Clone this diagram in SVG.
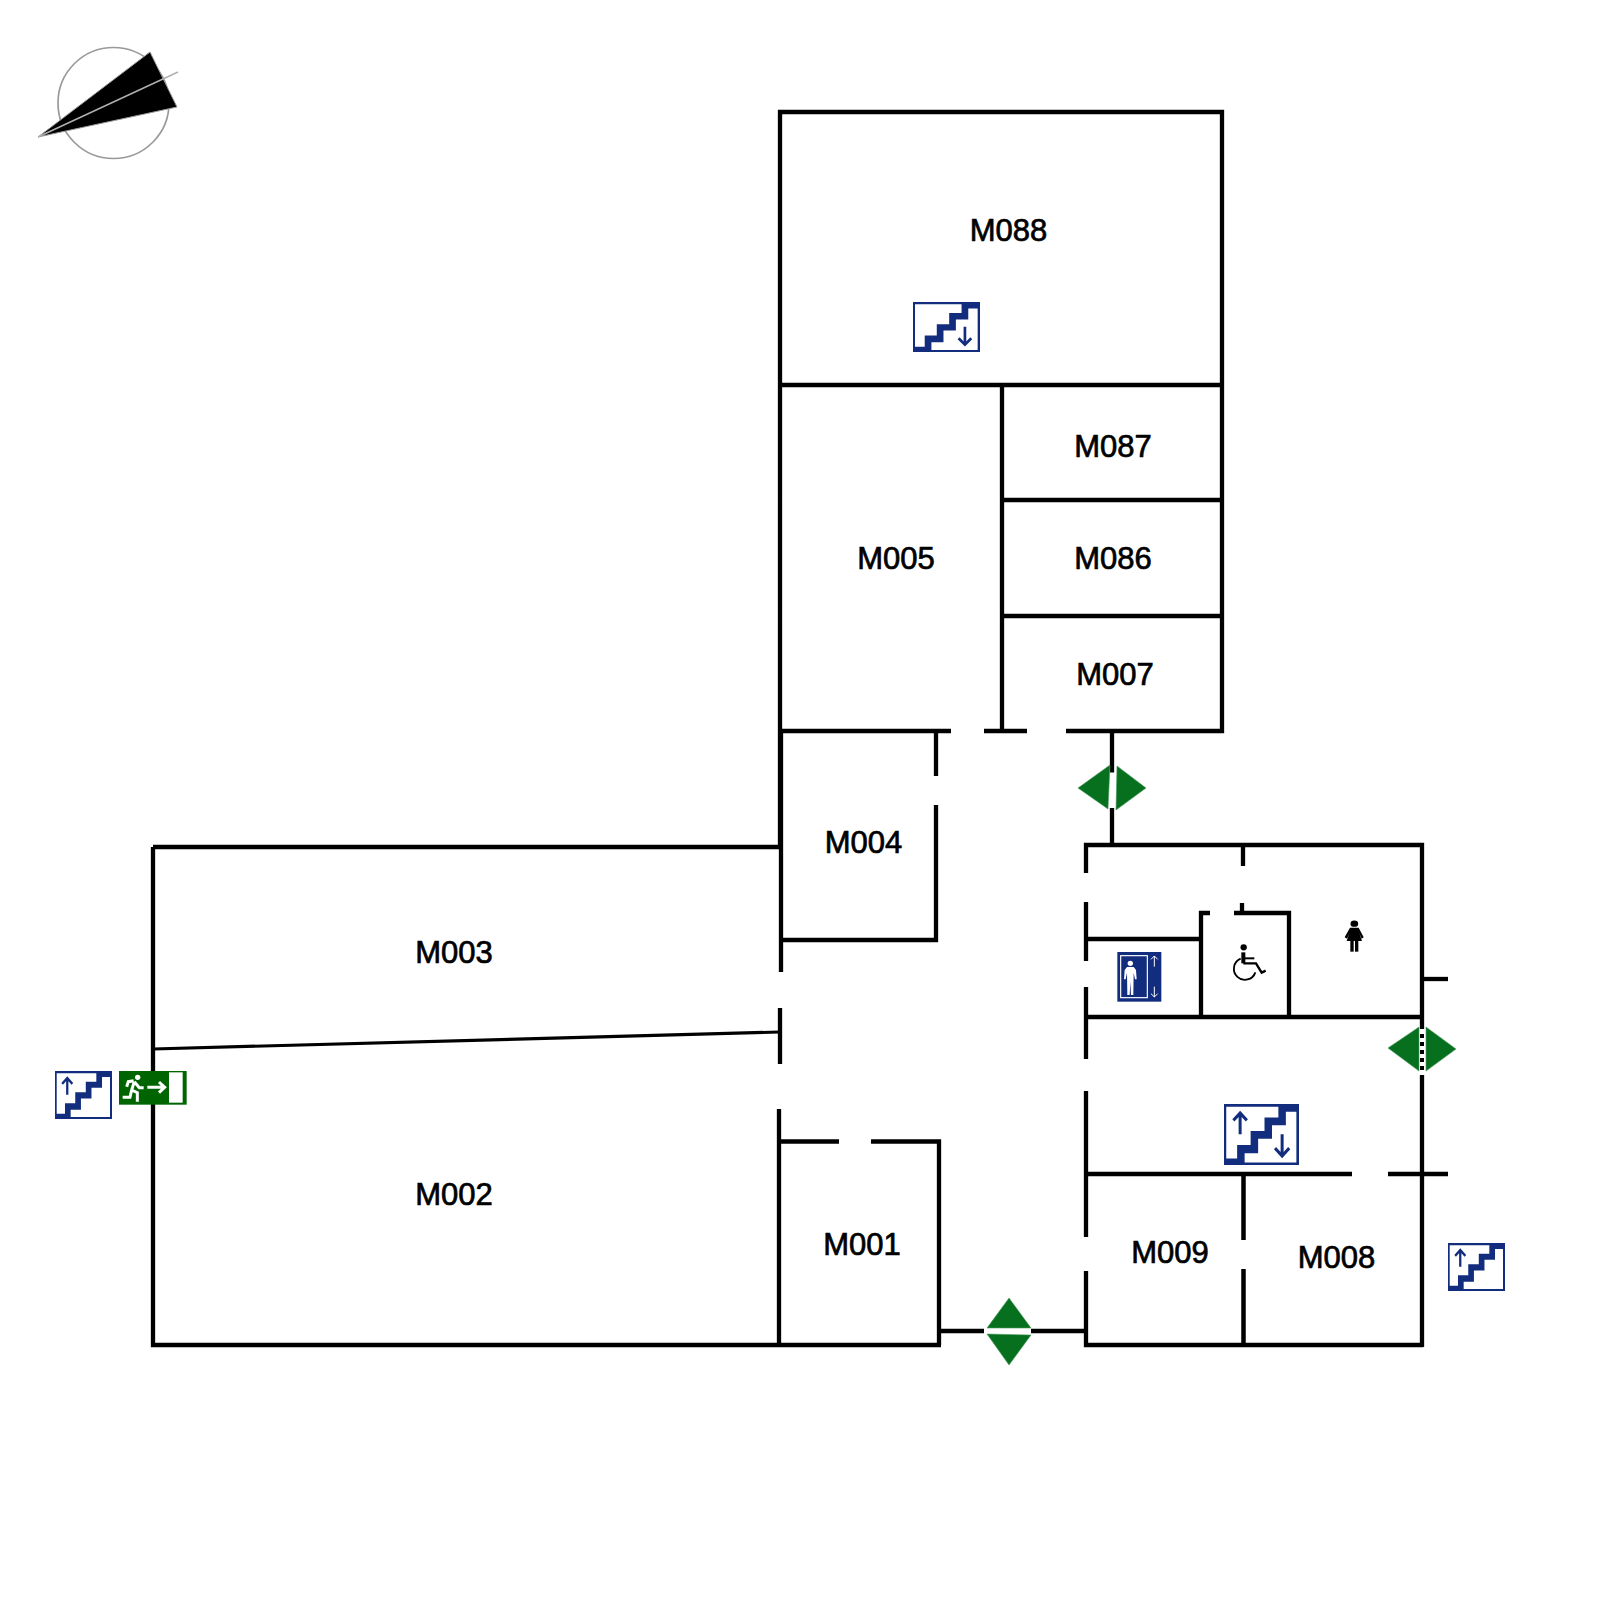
<svg xmlns="http://www.w3.org/2000/svg" width="1600" height="1600" viewBox="0 0 1600 1600">
<style>
.w{fill:none;stroke:#000;stroke-width:4.300;stroke-linecap:butt;stroke-linejoin:miter}
.t{font-family:"Liberation Sans",Arial,sans-serif;font-size:31px;fill:#000;text-anchor:middle;stroke:#000;stroke-width:.7}
.g{fill:#06701f;stroke:#4f9a62;stroke-width:.6}
.a{fill:none;stroke:#122d7d;stroke-width:8}
.p{fill:#fff}
</style>
<defs>
<g id="stairbase">
<rect width="200" height="149" fill="#122d7d"/>
<polygon class="p" points="6,7 145,7 145,33 108,33 108,66 71,66 71,100 35,100 35,133 6,133"/>
<polygon class="p" points="55,143 55,120 91,120 91,85 128,85 128,52 165,52 165,19 193,19 193,143"/>
</g>
<path id="arrowup" class="a" d="M43 74V22M25 40L43 22L61 40"/>
<path id="arrowdn" class="a" d="M155 74V127M136 108L155 127L174 108"/>
<symbol id="stair-up" viewBox="0 0 200 149" preserveAspectRatio="none"><use href="#stairbase"/><use href="#arrowup"/></symbol>
<symbol id="stair-dn" viewBox="0 0 200 149" preserveAspectRatio="none"><use href="#stairbase"/><use href="#arrowdn"/></symbol>
<symbol id="stair-ud" viewBox="0 0 200 149" preserveAspectRatio="none"><use href="#stairbase"/><use href="#arrowup"/><use href="#arrowdn"/></symbol>
</defs>
<rect width="1600" height="1600" fill="#fff"/>

<g id="compass">
<circle cx="113.500" cy="103" r="55.500" fill="none" stroke="#999" stroke-width="1.700"/>
<polygon points="38,137 150,52 177,107" fill="#000" stroke="#999" stroke-width="1"/>
<line x1="38" y1="137" x2="178" y2="72" stroke="#b0b0b0" stroke-width="1.500"/>
</g>

<g id="walls">
<path class="w" d="M780 847V112H1222V731H1066M780 385H1222M1002 385V731M1002 500H1222M1002 616H1222"/>
<path class="w" d="M780 731H951M984 731H1027"/>
<path class="w" d="M781 731V972M781 940H938M936 731V776M936 805V942"/>
<path class="w" d="M780 1008V1064M779 1109V1345M779 1141.500H839M871 1141.500H939V1345"/>
<path class="w" d="M153 847H781M153 847V1345H941"/>
<line x1="153" y1="1049" x2="780" y2="1032" stroke="#000" stroke-width="3.200"/>
<path class="w" d="M939 1331H984M1031 1331H1086"/>
<path class="w" d="M1112 731V772.500M1112 808V845"/>
<path class="w" d="M1086 873V845H1422V1029"/>
<path class="w" d="M1086 902V961M1086 987V1059M1086 1091V1237M1086 1271V1345H1423M1422 1075V1347"/>
<path class="w" d="M1086 939H1201M1086 1017H1422M1243 845V866M1242 903V912"/>
<path class="w" d="M1210 913H1201V1017M1234 913H1289V1017"/>
<path class="w" d="M1422 979H1448"/>
<path class="w" d="M1086 1174H1352M1388 1174H1448"/>
<path class="w" style="stroke-width:4.500" d="M1243.500 1174V1240M1243.500 1269V1346"/>
<line x1="1422" y1="1034" x2="1422" y2="1072" stroke="#000" stroke-width="4" stroke-dasharray="4 4"/>
</g>

<g id="doors">
<polygon class="g" points="1078,788 1110,765 1108,809"/>
<polygon class="g" points="1146,788 1117,766 1116,810"/>
<polygon class="g" points="1388,1048 1419,1027 1419,1071"/>
<polygon class="g" points="1456,1049 1426,1027 1426,1071"/>
<polygon class="g" points="1009,1298 987,1328 1031,1328"/>
<polygon class="g" points="1009,1365 987,1334 1031,1335"/>
</g>

<g id="signs">
<use href="#stair-dn" x="913" y="302" width="67" height="50"/>
<use href="#stair-up" x="55" y="1071" width="57" height="48"/>
<use href="#stair-ud" x="1224" y="1104" width="75" height="61"/>
<use href="#stair-up" x="1448" y="1243" width="57" height="48"/>
<g id="exit" transform="translate(20 1040) scale(.33333)">
<rect x="297" y="93" width="203" height="101" fill="#006400"/>
<rect x="447" y="97" width="41" height="91" fill="#fff"/>
<circle cx="353" cy="112" r="8" fill="#fff"/>
<path fill="none" stroke="#fff" stroke-width="9" d="M343 125L335 150M341 122L325 125L320 140M343 125L358 143H371M335 150L330 172H308M335 150L352 158V185"/>
<path fill="none" stroke="#fff" stroke-width="9" d="M382 142H432M417 126L434 142L417 158"/>
</g>
<g id="elevator" transform="translate(1070 830) scale(.33333)">
<rect x="142" y="366" width="132" height="149" fill="#122d7d"/>
<rect x="152" y="377" width="80" height="126" fill="none" stroke="#fff" stroke-width="3.500"/>
<circle cx="181" cy="400" r="8" fill="#fff"/>
<polygon class="p" points="171,411 191,411 198,420 200,448 195,448 191,428 190,495 183,495 181,455 179,495 172,495 171,428 167,448 162,448 164,420"/>
<path fill="none" stroke="#fff" stroke-width="3" d="M253 410V378M243 388L253 378L263 388M253 470V501M243 491L253 501L263 491"/>
</g>
<g id="wheelchair" transform="translate(1070 830) scale(.33333)">
<circle cx="521" cy="352" r="9.500"/>
<path fill="none" stroke="#000" stroke-width="12" d="M520 367V400"/>
<path fill="none" stroke="#000" stroke-width="6" d="M520 385H553"/>
<path fill="none" stroke="#000" stroke-width="7" d="M520 400H558L575 428L587 422"/>
<path fill="none" stroke="#000" stroke-width="5.500" d="M512 386A33 33 0 1 0 556 427"/>
</g>
<g id="woman" transform="translate(1070 830) scale(.33333)">
<ellipse cx="853" cy="281" rx="11.500" ry="9.500"/>
<polygon points="840,293 866,293 881,322 875,326 868,310 876,333 830,333 838,310 831,326 824,322"/>
<rect x="841" y="333" width="10" height="32"/>
<rect x="855" y="333" width="10" height="32"/>
</g>
</g>

<g id="labels">
<text class="t" x="1008.500" y="241">M088</text>
<text class="t" x="1113" y="457">M087</text>
<text class="t" x="1113" y="569">M086</text>
<text class="t" x="896" y="569">M005</text>
<text class="t" x="1115" y="685">M007</text>
<text class="t" x="863.500" y="853">M004</text>
<text class="t" x="454" y="963">M003</text>
<text class="t" x="454" y="1205">M002</text>
<text class="t" x="862" y="1255">M001</text>
<text class="t" x="1170" y="1263">M009</text>
<text class="t" x="1336.500" y="1268">M008</text>
</g>
</svg>
